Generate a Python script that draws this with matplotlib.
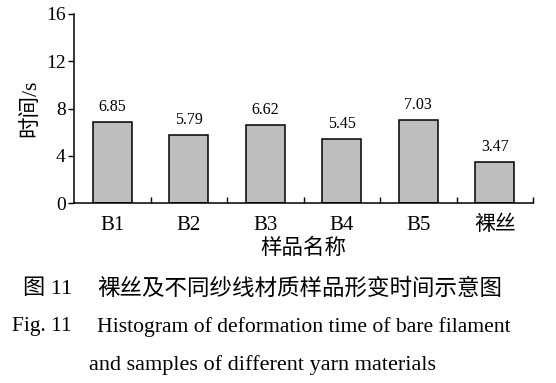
import matplotlib.pyplot as plt
import numpy as np

SERIF = ['Liberation Serif', 'Noto Sans CJK SC']

samples = ['B1', 'B2', 'B3', 'B4', 'B5', '裸丝']
times = [6.85, 5.79, 6.62, 5.45, 7.03, 3.47]
y_ticks = [0, 4, 8, 12, 16]

plt.rcParams['font.family'] = SERIF

fig = plt.figure(figsize=(5.56, 3.83), dpi=100)
ax = fig.add_axes([74 / 556, 180 / 383, 459 / 556, 189 / 383])

x = np.arange(len(samples))
ax.bar(x, times, width=0.515, color='#bebebe', edgecolor='black', lw=1.1)
for xi, t in zip(x, times):
    ax.text(xi, t + 0.6, '%.2f' % t, ha='center', va='bottom', fontsize=11.5)

ax.set_xlim(-0.5, len(samples) - 0.5)
ax.set_ylim(0, 16)
ax.set_yticks(y_ticks)
ax.set_xticks(x)
ax.set_xticklabels(samples, fontsize=15)
ax.set_xticks(np.arange(len(samples)) + 0.5, minor=True)
ax.tick_params(axis='x', which='major', length=0, pad=9)
ax.tick_params(axis='x', which='minor', direction='in', length=4, width=1)
ax.tick_params(axis='y', labelsize=14, length=4, width=1, pad=2)
for s in ['top', 'right']:
    ax.spines[s].set_visible(False)
for s in ['left', 'bottom']:
    ax.spines[s].set_linewidth(1.1)

ax.set_ylabel('时间/s', fontsize=15.5, labelpad=4)
ax.set_xlabel('样品名称', fontsize=15.5, labelpad=3)

fig.text(23 / 556, 1 - 289 / 383, '图 11', fontsize=16, va='center', ha='left')
fig.text(97 / 556, 1 - 289 / 383, '裸丝及不同纱线材质样品形变时间示意图', fontsize=16.2,
         va='center', ha='left')
fig.text(12 / 556, 1 - 327 / 383, 'Fig. 11', fontsize=15.5, va='center', ha='left')
fig.text(97 / 556, 1 - 327 / 383, 'Histogram of deformation time of bare filament',
         fontsize=15.6, va='center', ha='left')
fig.text(262.5 / 556, 1 - 365 / 383, 'and samples of different yarn materials',
         fontsize=16, va='center', ha='center')

fig.savefig('out.png', dpi=100)
